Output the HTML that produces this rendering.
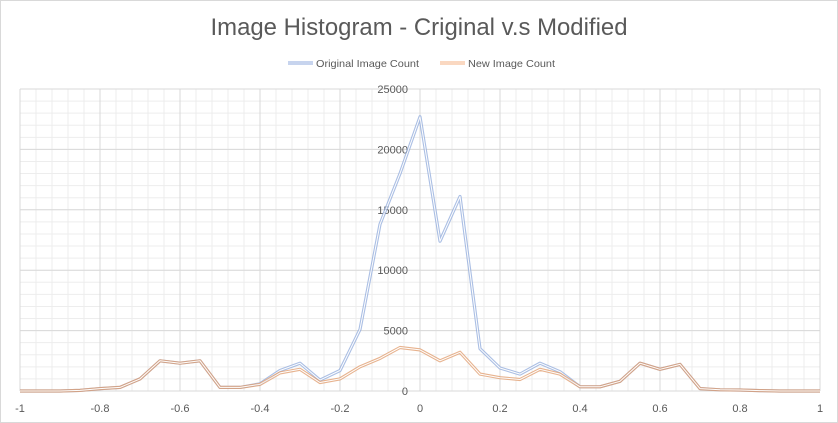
<!DOCTYPE html>
<html><head><meta charset="utf-8">
<style>
html,body{margin:0;padding:0;background:#fff;}
svg{display:block;font-family:"Liberation Sans",sans-serif;}
</style></head>
<body>
<svg id="chart" width="838" height="423" viewBox="0 0 838 423" xmlns="http://www.w3.org/2000/svg">
<rect x="0.5" y="0.5" width="837" height="422" fill="#fff" stroke="#d9d9d9"/>
<text x="419" y="35" text-anchor="middle" font-size="24" fill="#595959" textLength="417" lengthAdjust="spacingAndGlyphs">Image Histogram - Criginal v.s Modified</text>
<g>
 <g>
  <line x1="288" y1="63" x2="313" y2="63" stroke="#8faadc" stroke-width="3"/>
  <line x1="288" y1="63" x2="313" y2="63" stroke="#fff" stroke-width="1"/>
  <text x="316" y="67" font-size="10.5" fill="#595959" textLength="103" lengthAdjust="spacingAndGlyphs">Original Image Count</text>
 </g>
 <g>
  <line x1="440" y1="63" x2="465" y2="63" stroke="#f4b183" stroke-width="3"/>
  <line x1="440" y1="63" x2="465" y2="63" stroke="#fff" stroke-width="1"/>
  <text x="468" y="67" font-size="10.5" fill="#595959" textLength="87" lengthAdjust="spacingAndGlyphs">New Image Count</text>
 </g>
</g>
<g id="grid"></g>
<g id="axes"></g>
<g id="series"></g>
</svg>
<script>
const xs = [-1,-0.95,-0.9,-0.85,-0.8,-0.75,-0.7,-0.65,-0.6,-0.55,-0.5,-0.45,-0.4,-0.35,-0.3,-0.25,-0.2,-0.15,-0.1,-0.05,0,0.05,0.1,0.15,0.2,0.25,0.3,0.35,0.4,0.45,0.5,0.55,0.6,0.65,0.7,0.75,0.8,0.85,0.9,0.95,1];
const orig = [0,0,0,50,200,300,1000,2500,2300,2500,300,300,600,1700,2300,900,1700,5100,13800,18000,22700,12400,16100,3500,1900,1400,2300,1600,350,350,800,2300,1800,2200,200,100,80,30,0,0,0];
const modif = [0,0,0,50,200,300,1000,2500,2300,2500,300,300,550,1500,1800,700,1000,2000,2700,3600,3400,2500,3200,1400,1100,950,1800,1400,350,350,800,2300,1800,2200,200,100,80,30,0,0,0];
const xTicks = [-1,-0.8,-0.6,-0.4,-0.2,0,0.2,0.4,0.6,0.8,1];
const yTicks = [0,5000,10000,15000,20000,25000];

const NS="http://www.w3.org/2000/svg";
const L=20,R=820,T=89,B=391;
const X=v=>L+(v+1)/2*(R-L);
const Y=v=>B-v/25000*(B-T);
function mk(tag,attrs,parent){const e=document.createElementNS(NS,tag);for(const k in attrs)e.setAttribute(k,attrs[k]);parent.appendChild(e);return e;}
const grid=document.getElementById('grid'),axes=document.getElementById('axes'),series=document.getElementById('series');
for(let v=-1;v<=1.0001;v+=0.04){const l=mk('line',{x1:X(v),x2:X(v),y1:T,y2:B,stroke:'#ededed','stroke-width':1},grid);

}
for(let v=0;v<=25000;v+=1000){const l=mk('line',{x1:L,x2:R,y1:Y(v),y2:Y(v),stroke:'#ededed','stroke-width':1},grid);

}
xTicks.forEach(v=>{const l=mk('line',{x1:X(v),x2:X(v),y1:T,y2:B,stroke:'#d9d9d9','stroke-width':1},grid);


const t=mk('text',{x:X(v),y:412,'text-anchor':'middle','font-size':11,fill:'#595959'},axes);t.textContent=String(v);

});
yTicks.forEach(v=>{const l=mk('line',{x1:L,x2:R,y1:Y(v),y2:Y(v),stroke:'#d9d9d9','stroke-width':1},grid);


const t=mk('text',{x:408,y:Y(v)+4,'text-anchor':'end','font-size':11,fill:'#595959'},axes);t.textContent=String(v);

});
const ax=mk('line',{x1:X(0),x2:X(0),y1:T,y2:B,stroke:'#d9d9d9'},axes);


function draw(vals,color,name){
 const pts=xs.map((x,i)=>X(x).toFixed(1)+','+Y(vals[i]).toFixed(1)).join(' ');
 const g=mk('g',{opacity:0.75},series);
 
 
 mk('polyline',{points:pts,fill:'none',stroke:color,'stroke-width':3.2,'stroke-linejoin':'round'},g);
 mk('polyline',{points:pts,fill:'none',stroke:'#fff','stroke-width':1,'stroke-linejoin':'round'},g);
}
draw(orig,'#8faadc','series-original');
draw(modif,'#e09a6a','series-new');
</script>
</body></html>
